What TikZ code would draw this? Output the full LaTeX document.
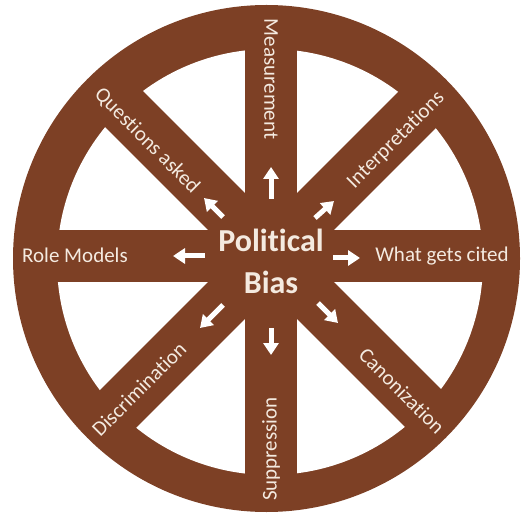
\documentclass[tikz,border=0pt]{standalone}
\usepackage{fontspec}
\setmainfont{Carlito}[Ligatures=NoCommon]
\usetikzlibrary{arrows.meta}
\definecolor{wheel}{RGB}{125,64,37}
\definecolor{labeltext}{RGB}{244,234,224}
\tikzset{
  spoke/.style={line width=52pt, draw=wheel},
  spokelabel/.style={text=labeltext, font=\fontsize{21}{25}\selectfont, inner sep=0pt, anchor=center},
  hublabel/.style={text=labeltext, font=\bfseries\fontsize{32}{42}\selectfont, align=center, inner sep=0pt},
  outarrow/.style={draw=white, line width=5pt, -{Triangle[width=15pt,length=12pt]}}
}
\begin{document}
\begin{tikzpicture}[x=1pt,y=-1pt]
\useasboundingbox (0,0) rectangle (522,521);
% wheel rim and white interior
\fill[wheel] (266.5,258.5) circle[radius=253.5];
\fill[white] (270,262) circle[radius=213];
% spokes
\coordinate (C) at (271,256);
\begin{scope}
\clip (266.5,258.5) circle[radius=253];
\draw[spoke] (271,10) -- (271,505);
\draw[spoke] (15,256) -- (525,256);
\draw[spoke] (100,85) -- (442,427);
\draw[spoke] (442,85) -- (100,427);
\end{scope}
% hub text
\node[hublabel] (hub) at (271,261) {Political\\Bias};
% spoke labels
\node[spokelabel, rotate=-90] (meas) at (271,79) {Measurement};
\node[spokelabel, rotate=90] (supp) at (271,449) {Suppression};
\node[spokelabel] (role) at (75,255) {Role Models};
\node[spokelabel] (cited) at (442,256) {What gets cited};
\node[spokelabel, rotate=-45] (quest) at (147,141) {Questions asked};
\node[spokelabel, rotate=45] (interp) at (396,140) {Interpretations};
\node[spokelabel, rotate=-45] (canon) at (402,391) {Canonization};
\node[spokelabel, rotate=45] (discr) at (139,389) {Discrimination};
% arrows
\coordinate (upA) at (271,199); \coordinate (upB) at (271,167);
\coordinate (dnA) at (271,328); \coordinate (dnB) at (271,355);
\coordinate (lfA) at (205,256); \coordinate (lfB) at (173,256);
\coordinate (rtA) at (333,258); \coordinate (rtB) at (360,258);
\coordinate (ulA) at (223,217); \coordinate (ulB) at (204,198);
\coordinate (urA) at (315,218); \coordinate (urB) at (334,201);
\coordinate (dlA) at (223,305); \coordinate (dlB) at (200,328);
\coordinate (drA) at (318,303); \coordinate (drB) at (338,323);
\draw[outarrow] (upA) -- (upB);
\draw[outarrow] (dnA) -- (dnB);
\draw[outarrow] (lfA) -- (lfB);
\draw[outarrow] (rtA) -- (rtB);
\draw[outarrow] (ulA) -- (ulB);
\draw[outarrow] (urA) -- (urB);
\draw[outarrow] (dlA) -- (dlB);
\draw[outarrow] (drA) -- (drB);
\end{tikzpicture}
\end{document}
